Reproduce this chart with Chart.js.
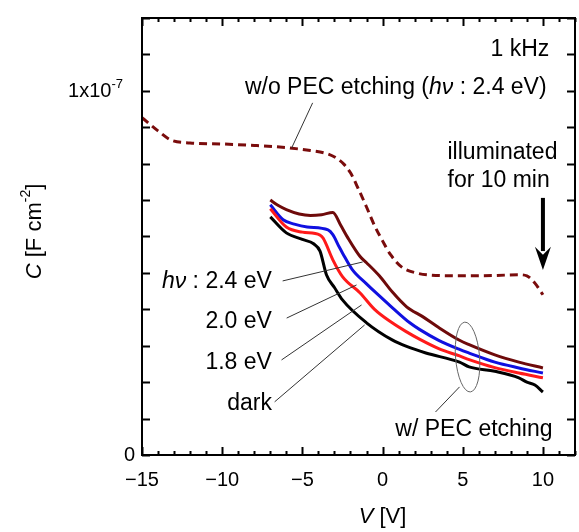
<!DOCTYPE html>
<html>
<head>
<meta charset="utf-8">
<script src="https://cdn.jsdelivr.net/npm/chart.js@4.4.1/dist/chart.umd.min.js"></script>
<style>
  html, body { margin: 0; padding: 0; background: #fff; }
  #wrap { width: 579px; height: 532px; }
</style>
</head>
<body>
<div id="wrap"><canvas id="cv" width="579" height="532"></canvas></div>
<script>
// capacitance values are in units of 1e-8 F cm^-2
const vWo = [-15, -14, -13.2, -12, -10, -8, -6, -4.5, -3.5, -2.9, -2.4, -2.0, -1.5, -1.0, -0.5, 0, 0.5, 1.2, 2.1, 3, 5, 7, 8.5, 9.0, 9.5, 10];
const cWo = [9.26, 8.9, 8.65, 8.57, 8.54, 8.5, 8.44, 8.36, 8.28, 8.16, 7.98, 7.75, 7.3, 6.81, 6.3, 5.88, 5.5, 5.16, 5.0, 4.94, 4.92, 4.93, 4.95, 4.92, 4.72, 4.40];

const v24 = [-7, -6.5, -6, -5.2, -4.5, -3.8, -3.1, -2.6, -2.2, -1.4, -1.0, -0.2, 0.6, 1.5, 2.5, 3.5, 4.8, 5.4, 7, 8.5, 10];
const c24 = [7.0, 6.85, 6.74, 6.62, 6.58, 6.6, 6.66, 6.3, 5.99, 5.45, 5.28, 4.92, 4.48, 4.07, 3.8, 3.5, 3.15, 3.03, 2.75, 2.55, 2.39];

const v20 = [-7, -6.2, -5.5, -4.7, -3.4, -3.1, -2.7, -2.5, -1.9, -1.0, -0.4, 0.6, 1.7, 2.3, 3.5, 4.8, 5.4, 7, 8.5, 10];
const c20 = [6.87, 6.46, 6.34, 6.26, 6.18, 6.05, 5.71, 5.55, 5.1, 4.7, 4.45, 4.05, 3.63, 3.45, 3.15, 2.9, 2.8, 2.55, 2.39, 2.25];

const v18 = [-7, -6.0, -5, -3.9, -3.7, -3.1, -2.5, -1.4, -0.5, 0.6, 1.5, 2.3, 3.5, 4.8, 5.4, 7, 8.5, 10];
const c18 = [6.76, 6.26, 6.12, 6.04, 5.95, 5.36, 4.9, 4.45, 4.0, 3.63, 3.38, 3.18, 2.92, 2.72, 2.62, 2.4, 2.25, 2.12];

const vDark = [-7, -6.0, -5, -4.3, -3.9, -3.5, -3.0, -2.5, -1.0, 0.6, 1.5, 2.7, 4.8, 5.4, 7, 8.5, 9, 9.5, 10];
const cDark = [6.54, 6.10, 5.92, 5.8, 5.6, 4.95, 4.6, 4.26, 3.63, 3.16, 2.98, 2.8, 2.55, 2.42, 2.3, 2.12, 2.0, 1.92, 1.73];

const xTicks = [-15, -10, -5, 0, 5, 10];
const FONT = '"Liberation Sans", Arial, Helvetica, sans-serif';

function pts(xs, ys) {
  return xs.map((x, i) => ({ x: x, y: ys[i] * 1e-8 }));
}

// draw text made of parts: {t, it: italic, sup: superscript}
function rich(ctx, parts, x, y, size, align) {
  const fontOf = p => (p.it ? 'italic ' : '') + (p.sup ? Math.round(size * 0.65) : size) + 'px ' + FONT;
  let w = 0;
  parts.forEach(p => { ctx.font = fontOf(p); w += ctx.measureText(p.t).width; });
  let cx = align === 'right' ? x - w : align === 'center' ? x - w / 2 : x;
  ctx.textBaseline = 'middle';
  ctx.textAlign = 'left';
  parts.forEach(p => {
    ctx.font = fontOf(p);
    ctx.fillText(p.t, cx, p.sup ? y - size * 0.38 : y);
    cx += ctx.measureText(p.t).width;
  });
}

const decor = {
  id: 'decor',
  afterDatasetsDraw(chart) {
    const ctx = chart.ctx;
    const a = chart.chartArea;
    const xs = chart.scales.x, ys = chart.scales.y;
    const X = v => xs.getPixelForValue(v);
    const Y = c => ys.getPixelForValue(c * 1e-8);
    ctx.save();
    ctx.fillStyle = '#000';
    ctx.strokeStyle = '#000';

    // frame
    ctx.lineWidth = 2;
    ctx.strokeRect(a.left, a.top, a.right - a.left, a.bottom - a.top);

    // x ticks, bottom and top, pointing inward
    for (let v = -15; v <= 12; v++) {
      const px = Math.round(X(v)) + 0.5;
      const len = v % 5 === 0 ? 8 : 4;
      ctx.lineWidth = 2;
      ctx.beginPath();
      ctx.moveTo(px, a.bottom); ctx.lineTo(px, a.bottom - len);
      ctx.moveTo(px, a.top); ctx.lineTo(px, a.top + len);
      ctx.stroke();
    }
    // y ticks every 1e-8, left and right
    for (let c = 0; c <= 12; c++) {
      const py = Math.round(Y(c)) + 0.5;
      ctx.beginPath();
      ctx.moveTo(a.left, py); ctx.lineTo(a.left + 8, py);
      ctx.moveTo(a.right, py); ctx.lineTo(a.right - 8, py);
      ctx.stroke();
    }

    // tick labels
    ctx.textBaseline = 'middle';
    ctx.textAlign = 'center';
    ctx.font = '20px ' + FONT;
    xTicks.forEach(v => ctx.fillText(String(v).replace('-', '\u2212'), X(v), a.bottom + 25));
    rich(ctx, [{ t: '0' }], a.left - 7, Y(0), 20, 'right');
    rich(ctx, [{ t: '1x10' }, { t: '-7', sup: true }], a.left - 19, Y(10) + 1, 20, 'right');

    // axis titles
    rich(ctx, [{ t: 'V', it: true }, { t: ' [V]' }], X(0), 517, 22, 'center');
    ctx.save();
    ctx.translate(35, (a.top + a.bottom) / 2 - 5);
    ctx.rotate(-Math.PI / 2);
    rich(ctx, [{ t: 'C', it: true }, { t: ' [F cm' }, { t: '-2', sup: true }, { t: ']' }], 0, 0, 22, 'center');
    ctx.restore();

    // annotations
    const S = 23;
    rich(ctx, [{ t: '1 kHz' }], X(10.4), Y(11.12), S, 'right');
    rich(ctx, [{ t: 'w/o PEC etching (' }, { t: 'hν', it: true }, { t: ' : 2.4 eV)' }], X(10.23), Y(10.08), S, 'right');
    rich(ctx, [{ t: 'illuminated' }], X(4.05), Y(8.3), S, 'left');
    rich(ctx, [{ t: 'for 10 min' }], X(4.05), Y(7.53), S, 'left');
    rich(ctx, [{ t: 'hν', it: true }, { t: ' : 2.4 eV' }], X(-6.9), Y(4.75), S, 'right');
    rich(ctx, [{ t: '2.0 eV' }], X(-6.9), Y(3.65), S, 'right');
    rich(ctx, [{ t: '1.8 eV' }], X(-6.9), Y(2.53), S, 'right');
    rich(ctx, [{ t: 'dark' }], X(-6.9), Y(1.40), S, 'right');
    rich(ctx, [{ t: 'w/ PEC etching' }], X(10.6), Y(0.69), S, 'right');

    // leader lines
    ctx.lineWidth = 1;
    ctx.strokeStyle = '#333';
    const leaders = [
      [-4.36, 9.67, -5.67, 8.43],
      [-6.23, 4.78, -1.24, 5.30],
      [-5.98, 3.76, -1.62, 4.67],
      [-6.3, 2.61, -1.31, 4.12],
      [-6.73, 1.46, -1.12, 3.57],
      [4.8, 1.87, 3.3, 1.18]
    ];
    leaders.forEach(l => {
      ctx.beginPath();
      ctx.moveTo(X(l[0]), Y(l[1]));
      ctx.lineTo(X(l[2]), Y(l[3]));
      ctx.stroke();
    });
    // ellipse round the etched curves
    ctx.strokeStyle = '#666';
    ctx.beginPath();
    ctx.ellipse(X(5.3), Y(2.69), 12, 35, -0.08, 0, Math.PI * 2);
    ctx.stroke();

    // arrow
    ctx.strokeStyle = '#000';
    ctx.lineWidth = 4;
    const ax = X(10);
    ctx.beginPath();
    ctx.moveTo(ax, Y(7.06));
    ctx.lineTo(ax, Y(5.6));
    ctx.stroke();
    ctx.beginPath();
    ctx.moveTo(ax - 8, Y(5.72));
    ctx.lineTo(ax, Y(5.08));
    ctx.lineTo(ax + 8, Y(5.72));
    ctx.lineTo(ax, Y(5.5));
    ctx.closePath();
    ctx.fill();
    ctx.restore();
  }
};

const line = (xs, ys, color, dash) => ({
  data: pts(xs, ys),
  borderColor: color,
  borderWidth: 3,
  borderDash: dash || [],
  pointRadius: 0,
  fill: false,
  cubicInterpolationMode: 'monotone'
});

new Chart(document.getElementById('cv'), {
  type: 'line',
  data: {
    datasets: [
      line(vWo, cWo, '#7a0c0c', [8, 5]),
      line(vDark, cDark, '#000000'),
      line(v18, c18, '#ff1a1a'),
      line(v20, c20, '#1010e0'),
      line(v24, c24, '#6e0a0a')
    ]
  },
  options: {
    responsive: false,
    animation: false,
    devicePixelRatio: 1,
    layout: { padding: { left: 142, right: 4, top: 18, bottom: 77 } },
    plugins: { legend: { display: false }, tooltip: { enabled: false } },
    scales: {
      x: { type: 'linear', min: -15, max: 12, display: false },
      y: { type: 'linear', min: 0, max: 1.2e-7, display: false }
    }
  },
  plugins: [decor]
});
</script>
</body>
</html>
